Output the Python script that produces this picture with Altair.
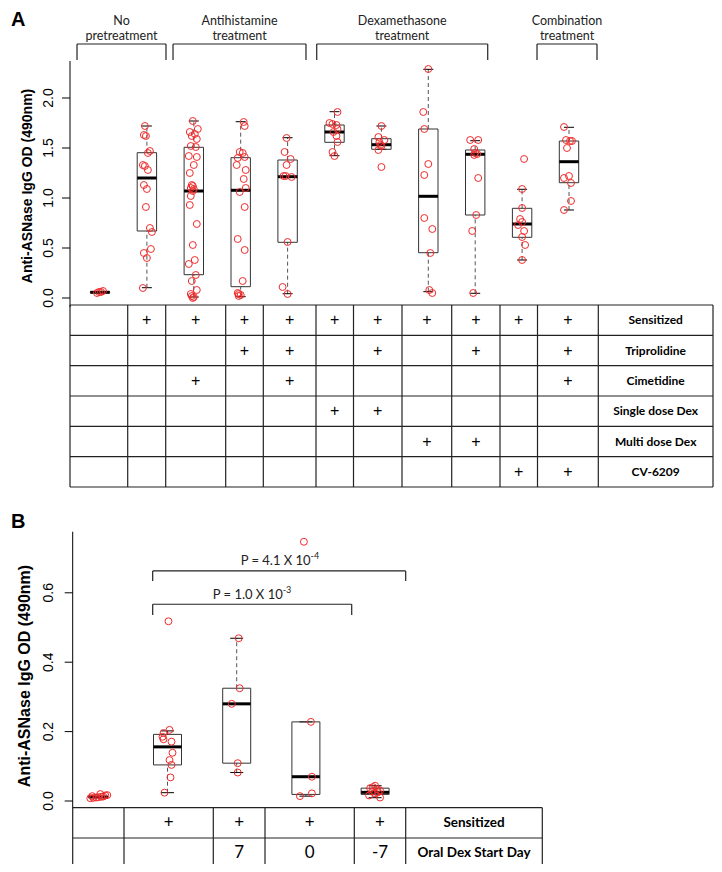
import altair as alt
import pandas as pd

# ================= DATA =================
# ---- Panel A : box statistics per group ----
A_groups = [1, 2, 3, 4, 5, 6, 7, 8, 9, 10, 11]
A_q1  = [0.053, 0.670, 0.233, 0.113, 0.557, 1.557, 1.487, 0.453, 0.830, 0.607, 1.153]
A_med = [0.057, 1.200, 1.070, 1.077, 1.213, 1.660, 1.533, 1.017, 1.437, 0.740, 1.363]
A_q3  = [0.062, 1.453, 1.507, 1.403, 1.380, 1.730, 1.593, 1.690, 1.480, 0.897, 1.570]
A_wlo = [0.053, 0.103, 0.010, 0.013, 0.043, 1.423, 1.487, 0.063, 0.047, 0.380, 0.880]
A_whi = [0.062, 1.720, 1.770, 1.763, 1.603, 1.863, 1.720, 2.287, 1.573, 1.087, 1.707]

# ---- Panel A : individual points (values) and their horizontal jitter (px) ----
A_vals = [
    [0.05, 0.06, 0.06, 0.07],
    [1.72, 1.63, 1.62, 1.47, 1.45, 1.33, 1.32, 1.28, 1.13, 1.09, 0.91, 0.70, 0.66, 0.49, 0.45, 0.40, 0.10],
    [1.77, 1.69, 1.66, 1.64, 1.62, 1.59, 1.52, 1.51, 1.42, 1.41, 1.33, 1.25, 1.13, 1.12, 1.10,
     1.09, 1.07, 1.02, 0.93, 0.74, 0.53, 0.38, 0.34, 0.23, 0.17, 0.08, 0.04, 0.02, 0.01, 0.00],
    [1.76, 1.72, 1.46, 1.45, 1.41, 1.40, 1.33, 1.28, 1.19, 1.10, 1.06, 0.91, 0.59, 0.48, 0.17, 0.05, 0.04, 0.03, 0.02],
    [1.60, 1.46, 1.39, 1.33, 1.22, 1.22, 1.21, 0.56, 0.11, 0.04],
    [1.86, 1.75, 1.74, 1.73, 1.69, 1.66, 1.62, 1.56, 1.46, 1.42],
    [1.72, 1.61, 1.58, 1.56, 1.53, 1.52, 1.48, 1.31],
    [2.29, 1.86, 1.69, 1.34, 1.23, 0.80, 0.69, 0.45, 0.08, 0.05],
    [1.58, 1.58, 1.49, 1.45, 1.44, 1.43, 1.20, 0.83, 0.67, 0.05],
    [1.39, 1.09, 0.90, 0.79, 0.76, 0.73, 0.67, 0.61, 0.53, 0.38],
    [1.71, 1.58, 1.57, 1.57, 1.50, 1.22, 1.20, 1.15, 0.97, 0.88],
]
A_jit = [
    [-3, -1, 1, 3],
    [-2, -3, -1, 3, 1, -4, -2, 1, -3, 0, -1, 3, 5, 4, -3, 0, -4],
    [-1, 4, -4, 1, -2, 3, -3, 2, -5, 3, 0, -4, -2, -1, -3, 0, -1, -3, -4, 3, -1, 1, -5, 2, -2, 3, -3, -2, 0, -1],
    [3, 4, -1, 2, 4, -3, -4, 5, 3, 5, -1, 4, -3, 4, 2, -3, -2, 0, -2],
    [-1, -3, 3, -1, -4, -2, 4, 0, -5, 0],
    [3, -5, -2, 2, 3, -1, 2, 3, -2, 0],
    [0, -3, 3, -2, -1, 0, -3, 0],
    [0, -5, -4, 0, -4, -4, 4, 2, 1, 4],
    [-5, 3, -1, 0, 2, -1, 3, 1, -3, -2],
    [2, 0, 0, -2, 0, -4, 2, 0, 3, 0],
    [-5, -3, 1, 3, -2, 0, -5, 2, 2, -5],
]

A_ticks = [0.0, 0.5, 1.0, 1.5, 2.0]
A_tick_labels = ["0.0", "0.5", "1.0", "1.5", "2.0"]
A_title = "Anti-ASNase IgG OD (490nm)"

A_br_line1 = ["No", "Antihistamine", "Dexamethasone", "Combination"]
A_br_line2 = ["pretreatment", "treatment", "treatment", "treatment"]
A_br_start = [0.510, 2.557, 5.621, 10.318]
A_br_end = [2.407, 5.392, 9.267, 11.597]

A_rows = ["Sensitized", "Triprolidine", "Cimetidine", "Single dose Dex", "Multi dose Dex", "CV-6209"]
A_plus = [[2, 3, 4, 5, 6, 7, 8, 9, 10, 11], [4, 5, 7, 9, 11], [3, 5, 11], [6, 7], [8, 9], [10, 11]]

# ---- Panel B ----
B_groups = [1, 2, 3, 4, 5]
B_q1  = [0.0105, 0.104, 0.109, 0.019, 0.019]
B_med = [0.0115, 0.156, 0.280, 0.070, 0.025]
B_q3  = [0.0130, 0.192, 0.325, 0.228, 0.037]
B_wlo = [0.0105, 0.024, 0.082, 0.014, 0.0095]
B_whi = [0.0130, 0.202, 0.469, 0.228, 0.044]

B_vals = [
    [0.008, 0.009, 0.010, 0.011, 0.012, 0.013, 0.014, 0.016, 0.017, 0.020],
    [0.518, 0.205, 0.196, 0.185, 0.178, 0.171, 0.139, 0.118, 0.104, 0.068, 0.024],
    [0.469, 0.325, 0.280, 0.109, 0.082],
    [0.747, 0.228, 0.070, 0.022, 0.014],
    [0.044, 0.040, 0.037, 0.034, 0.030, 0.027, 0.025, 0.022, 0.016, 0.010],
]
B_jit = [
    [-8, -5, -2, 0, 3, 5, -6, 7, 9, 2],
    [1, 2, -4, -5, -4, 4, 5, 2, 4, 3, -3],
    [2, 3, -5, 1, 1],
    [-2, 5, 6, 6, -6],
    [0, -2, -5, 2, 5, -3, 3, 0, -6, 5],
]

B_ticks = [0.0, 0.2, 0.4, 0.6]
B_tick_labels = ["0.0", "0.2", "0.4", "0.6"]

B_sig_start = [1.786, 1.786]
B_sig_end = [5.442, 4.662]
B_sig_top = [0.663, 0.567]
B_sig_leg = [0.634, 0.536]
B_sig_text = ["P = 4.1 X 10", "P = 1.0 X 10"]
B_sig_exp = ["-4", "-3"]
B_sig_tx = [4.068, 3.665]
B_sig_ty = [0.692, 0.594]
B_sig_ey = [0.705, 0.607]

B_rows = ["Sensitized", "Oral Dex Start Day"]
B_cells = [["", "+", "+", "+", "+"], ["", "", "7", "0", "-7"]]

# ================= LAYOUT (page pixels) =================
def P(v):
    return v - 8

A_X0, A_DX = 100.0, 46.9
B_X0, B_DX = 98.3, 69.2
A_col_edges = [70, 127.7, 165.7, 225.7, 263.3, 316, 353.5, 402, 451.7, 500, 537.5, 598.3, 713]
B_col_edges = [72.7, 124, 213.3, 265, 354.3, 405.7, 542.3]

xA = alt.Scale(domain=[1, 11], range=[P(A_X0), P(A_X0 + 10 * A_DX)], nice=False, zero=False)
yA = alt.Scale(domain=[0, 2], range=[P(298), P(98)], nice=False, zero=False)
xB = alt.Scale(domain=[1, 5], range=[P(B_X0), P(B_X0 + 4 * B_DX)], nice=False, zero=False)
yB = alt.Scale(domain=[0, 0.6], range=[P(801), P(592.8)], nice=False, zero=False)
xTA = alt.Scale(domain=[70, 713], range=[P(70), P(713)], nice=False, zero=False)
yTA = alt.Scale(domain=[0, 6], range=[P(305), P(487)], nice=False, zero=False)
xTB = alt.Scale(domain=[72.7, 542.3], range=[P(72.7), P(542.3)], nice=False, zero=False)
yTB = alt.Scale(domain=[0, 2], range=[P(807.7), P(868.3)], nice=False, zero=False)

RED = "#f02a2a"
LINE = "#222222"
SANS = "Liberation Sans"
HUM = "Lato"


def X(f, s):
    return alt.X(f, scale=s, axis=None)


def Y(f, s):
    return alt.Y(f, scale=s, axis=None)


def box_layers(groups, q1, med, q3, wlo, whi, half, cap, xs, ys):
    df = pd.DataFrame(dict(g=groups, q1=q1, med=med, q3=q3, lo=wlo, hi=whi))
    df["bx1"] = [g - h for g, h in zip(groups, half)]
    df["bx2"] = [g + h for g, h in zip(groups, half)]
    df["cx1"] = df["g"] - cap
    df["cx2"] = df["g"] + cap
    base = alt.Chart(df)
    return [
        base.mark_rule(color="#555555", strokeDash=[4, 3], strokeWidth=1).encode(
            x=X("g:Q", xs), y=Y("q3:Q", ys), y2="hi:Q"),
        base.mark_rule(color="#555555", strokeDash=[4, 3], strokeWidth=1).encode(
            x=X("g:Q", xs), y=Y("lo:Q", ys), y2="q1:Q"),
        base.mark_rule(color="black", strokeWidth=1).encode(
            x=X("cx1:Q", xs), x2="cx2:Q", y=Y("hi:Q", ys)),
        base.mark_rule(color="black", strokeWidth=1).encode(
            x=X("cx1:Q", xs), x2="cx2:Q", y=Y("lo:Q", ys)),
        base.mark_rect(fillOpacity=0, stroke="#333333", strokeWidth=1).encode(
            x=X("bx1:Q", xs), x2="bx2:Q", y=Y("q1:Q", ys), y2="q3:Q"),
        base.mark_rule(color="black", strokeWidth=3).encode(
            x=X("bx1:Q", xs), x2="bx2:Q", y=Y("med:Q", ys)),
    ]


def point_layer(vals, jit, dx, xs, ys):
    rows = []
    for gi, (vs, js) in enumerate(zip(vals, jit)):
        for v, j in zip(vs, js):
            rows.append(dict(x=gi + 1 + j / dx, v=v))
    return alt.Chart(pd.DataFrame(rows)).mark_point(
        shape="circle", filled=False, color=RED, size=48, strokeWidth=1, opacity=1
    ).encode(x=X("x:Q", xs), y=Y("v:Q", ys))


def axis_layers(ticks, labels, extent, ys, ax_x, tick_len, lab_x, title, title_x, title_y, title_size):
    tdf = pd.DataFrame(dict(v=ticks, lab=labels))
    edf = pd.DataFrame(dict(a=[extent[0]], b=[extent[1]]))
    return [
        alt.Chart(edf).mark_rule(color="black", strokeWidth=1).encode(
            x=alt.value(P(ax_x)), y=Y("a:Q", ys), y2="b:Q"),
        alt.Chart(tdf).mark_rule(color="black", strokeWidth=1).encode(
            x=alt.value(P(ax_x - tick_len)), x2=alt.value(P(ax_x)), y=Y("v:Q", ys)),
        alt.Chart(tdf).mark_text(angle=270, font=SANS, fontSize=14, align="center",
                                 baseline="middle", color="black").encode(
            x=alt.value(P(lab_x)), y=Y("v:Q", ys), text="lab:N"),
        alt.Chart(pd.DataFrame(dict(t=[title]))).mark_text(
            angle=270, font=SANS, fontSize=title_size, fontWeight="bold", align="center",
            baseline="middle", color="black").encode(
            x=alt.value(P(title_x)), y=alt.value(P(title_y)), text="t:N"),
    ]


def table_layers(edges, nrows, xs, ys, cells, row_labels, cell_size, cell_font, lab_size):
    h = pd.DataFrame(dict(r=list(range(nrows + 1)), x1=edges[0], x2=edges[-1]))
    v = pd.DataFrame(dict(e=edges, y1=0, y2=nrows))
    crow = []
    for r, row in enumerate(cells):
        for c, t in enumerate(row):
            if t:
                crow.append(dict(x=(edges[c] + edges[c + 1]) / 2, y=r + 0.5, t=t))
    ldf = pd.DataFrame(dict(x=(edges[-2] + edges[-1]) / 2, y=[r + 0.5 for r in range(nrows)], t=row_labels))
    return [
        alt.Chart(h).mark_rule(color=LINE, strokeWidth=1.2).encode(
            x=X("x1:Q", xs), x2="x2:Q", y=Y("r:Q", ys)),
        alt.Chart(v).mark_rule(color=LINE, strokeWidth=1.2).encode(
            x=X("e:Q", xs), y=Y("y1:Q", ys), y2="y2:Q"),
        alt.Chart(pd.DataFrame(crow)).mark_text(font=cell_font, fontSize=cell_size, color="black",
                                               align="center", baseline="middle").encode(
            x=X("x:Q", xs), y=Y("y:Q", ys), text="t:N"),
        alt.Chart(ldf).mark_text(font=HUM, fontSize=lab_size, fontWeight="bold", color="black",
                                 align="center", baseline="middle").encode(
            x=X("x:Q", xs), y=Y("y:Q", ys), text="t:N"),
    ]


layers = []

# ---------------- Panel A ----------------
layers += axis_layers(A_ticks, A_tick_labels, [-0.09, 2.37], yA, 70, 8, 49, A_title, 28, 186, 14)
layers += box_layers(A_groups, A_q1, A_med, A_q3, A_wlo, A_whi, [9.7 / A_DX] * 11, 5.0 / A_DX, xA, yA)
layers.append(point_layer(A_vals, A_jit, A_DX, xA, yA))

brA = pd.DataFrame(dict(s=A_br_start, e=A_br_end, l1=A_br_line1, l2=A_br_line2))
brA["m"] = (brA["s"] + brA["e"]) / 2
brA["top"] = 2.54
brA["leg"] = 2.38
brA["t1"] = 2.768
brA["t2"] = 2.618
bA = alt.Chart(brA)
layers += [
    bA.mark_rule(color=LINE, strokeWidth=1.2).encode(x=X("s:Q", xA), x2="e:Q", y=Y("top:Q", yA)),
    bA.mark_rule(color=LINE, strokeWidth=1.2).encode(x=X("s:Q", xA), y=Y("top:Q", yA), y2="leg:Q"),
    bA.mark_rule(color=LINE, strokeWidth=1.2).encode(x=X("e:Q", xA), y=Y("top:Q", yA), y2="leg:Q"),
    bA.mark_text(font=HUM, fontSize=12.5, color="#222222", align="center", baseline="middle").encode(
        x=X("m:Q", xA), y=Y("t1:Q", yA), text="l1:N"),
    bA.mark_text(font=HUM, fontSize=12.5, color="#222222", align="center", baseline="middle").encode(
        x=X("m:Q", xA), y=Y("t2:Q", yA), text="l2:N"),
]

A_cells = [["+" if (c + 1) in cols else "" for c in range(11)] for cols in A_plus]
layers += table_layers(A_col_edges, 6, xTA, yTA, A_cells, A_rows, 16, SANS, 12)

# ---------------- Panel B ----------------
layers += axis_layers(B_ticks, B_tick_labels, [-0.02, 0.776], yB, 72.7, 8, 49, A_title, 25, 676, 16)
layers += box_layers(B_groups, B_q1, B_med, B_q3, B_wlo, B_whi,
                     [9.7 / B_DX] + [14.0 / B_DX] * 4, 6.5 / B_DX, xB, yB)
layers.append(point_layer(B_vals, B_jit, B_DX, xB, yB))

sig = pd.DataFrame(dict(s=B_sig_start, e=B_sig_end, top=B_sig_top, leg=B_sig_leg,
                        t=B_sig_text, ex=B_sig_exp, tx=B_sig_tx, ty=B_sig_ty, ey=B_sig_ey))
sB = alt.Chart(sig)
layers += [
    sB.mark_rule(color=LINE, strokeWidth=1.2).encode(x=X("s:Q", xB), x2="e:Q", y=Y("top:Q", yB)),
    sB.mark_rule(color=LINE, strokeWidth=1.2).encode(x=X("s:Q", xB), y=Y("top:Q", yB), y2="leg:Q"),
    sB.mark_rule(color=LINE, strokeWidth=1.2).encode(x=X("e:Q", xB), y=Y("top:Q", yB), y2="leg:Q"),
    sB.mark_text(font=HUM, fontSize=13, color="#222222", align="right", baseline="middle").encode(
        x=X("tx:Q", xB), y=Y("ty:Q", yB), text="t:N"),
    sB.mark_text(font=HUM, fontSize=9, color="#222222", align="left", baseline="middle").encode(
        x=X("tx:Q", xB), y=Y("ey:Q", yB), text="ex:N"),
]

layers += table_layers(B_col_edges, 2, xTB, yTB, B_cells, B_rows, 17, HUM, 13.5)

# ---------------- panel letters ----------------
layers.append(alt.Chart(pd.DataFrame(dict(t=["A"]))).mark_text(
    font=SANS, fontSize=20, fontWeight="bold", align="left", baseline="middle", color="black").encode(
    x=alt.value(3), y=alt.value(12), text="t:N"))
layers.append(alt.Chart(pd.DataFrame(dict(t=["B"]))).mark_text(
    font=SANS, fontSize=20, fontWeight="bold", align="left", baseline="middle", color="black").encode(
    x=alt.value(3), y=alt.value(P(522)), text="t:N"))

chart = (
    alt.layer(*layers)
    .resolve_scale(x="independent", y="independent")
    .properties(width=706, height=856, padding=0, autosize=alt.AutoSizeParams(type="none"))
    .configure_view(stroke=None)
)

chart.save("out.html", embed_options={"renderer": "svg", "actions": False})
